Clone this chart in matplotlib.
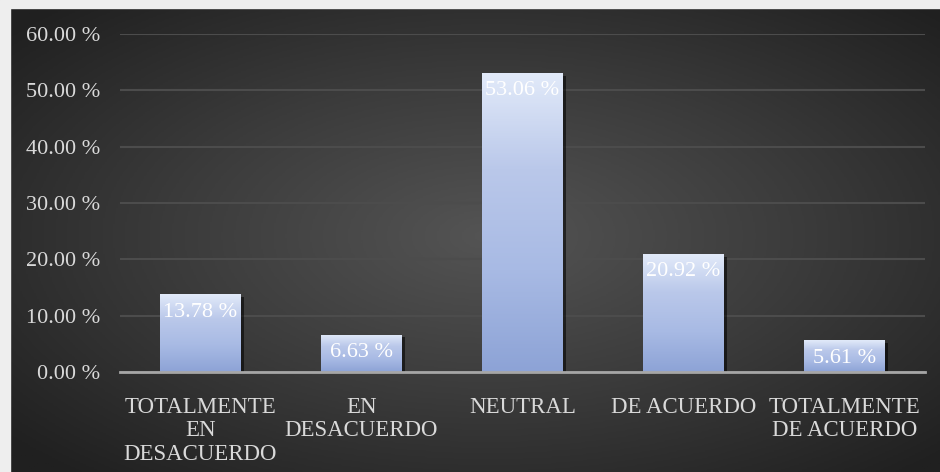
import numpy as np
import matplotlib
matplotlib.use('Agg')
import matplotlib.pyplot as plt
import matplotlib.patheffects as pe
from matplotlib.colors import LinearSegmentedColormap
from matplotlib.patches import Rectangle

# survey answers and their share of responses (%)
categorias = ['TOTALMENTE\nEN\nDESACUERDO', 'EN\nDESACUERDO', 'NEUTRAL',
              'DE ACUERDO', 'TOTALMENTE\nDE ACUERDO']
porcentajes = [13.78, 6.63, 53.06, 20.92, 5.61]
etiquetas = ['13.78 %', '6.63 %', '53.06 %', '20.92 %', '5.61 %']
yticks = [0, 10, 20, 30, 40, 50, 60]

serif = 'Liberation Serif'

fig = plt.figure(figsize=(9.4, 4.72), dpi=100)

# dark background with a soft radial glow
bg = fig.add_axes([0, 0, 1, 1], zorder=-10)
yy, xx = np.mgrid[0:1:300j, 0:1:600j]
r = np.sqrt(((xx - 0.52) / 0.75) ** 2 + ((yy - 0.5) / 0.75) ** 2)
bgmap = LinearSegmentedColormap.from_list('bg', ['#545454', '#3b3b3b', '#202020'])
bg.imshow(r, cmap=bgmap, vmin=0, vmax=0.9, extent=[0, 1, 0, 1], aspect='auto')
bg.set_axis_off()
# thin light frame on the top and left edge
fig.patches.append(Rectangle((0, 0), 9.5 / 940, 1, transform=fig.transFigure,
                             color='#eeeeee', zorder=-5))
fig.patches.append(Rectangle((0, 1 - 7.5 / 472), 1, 7.5 / 472, transform=fig.transFigure,
                             color='#eeeeee', zorder=-5))

ax = fig.add_axes([120 / 940, 100 / 472, 805 / 940, 338 / 472])
ax.patch.set_alpha(0)

x = np.arange(len(categorias))
bars = ax.bar(x, porcentajes, width=0.5, color='#9db0df', zorder=3,
              path_effects=[pe.SimplePatchShadow(offset=(2, -2), shadow_rgbFace='black', alpha=0.55),
                            pe.Normal()])

# vertical gradient inside each bar
barmap = LinearSegmentedColormap.from_list('bar', ['#8da3d6', '#a8bae4', '#bac8ea', '#e4ecfa'])
grad = np.linspace(0, 1, 200).reshape(-1, 1)
grad = np.hstack([grad] * 20)
for b in bars:
    x0, w, h = b.get_x(), b.get_width(), b.get_height()
    im = ax.imshow(grad, cmap=barmap, origin='lower', aspect='auto',
                   extent=[x0, x0 + w, 0, h], zorder=4, vmin=0, vmax=1.02)
    im.set_clip_path(b)

for b, lab in zip(bars, etiquetas):
    ax.annotate(lab, (b.get_x() + b.get_width() / 2, b.get_height()),
                xytext=(0, -6), textcoords='offset points', ha='center', va='top',
                color='white', fontsize=16, family=serif, zorder=6)

ax.set_xlim(-0.5, len(categorias) - 0.5)
ax.set_ylim(0, 60)
ax.set_yticks(yticks)
ax.set_yticklabels(['%.2f %%' % v for v in yticks])
ax.set_xticks(x)
ax.set_xticklabels(categorias, linespacing=1.15)

for lab in ax.get_yticklabels():
    lab.set_fontsize(16)
for lab in ax.get_xticklabels():
    lab.set_fontsize(16.5)
    lab.set_verticalalignment('top')
for lab in ax.get_yticklabels() + ax.get_xticklabels():
    lab.set_family(serif)
    lab.set_color('#d9d9d9')

ax.tick_params(axis='y', length=0, pad=14)
ax.tick_params(axis='x', length=0, pad=18)

ax.grid(axis='y', color='#4c4c4c', linewidth=1.5, zorder=0)
ax.set_axisbelow(True)
for s in ['top', 'right', 'left']:
    ax.spines[s].set_visible(False)
ax.spines['bottom'].set_color('#a6a6a6')
ax.spines['bottom'].set_linewidth(2)
ax.spines['bottom'].set_zorder(5)

fig.savefig('out.png', dpi=100)
